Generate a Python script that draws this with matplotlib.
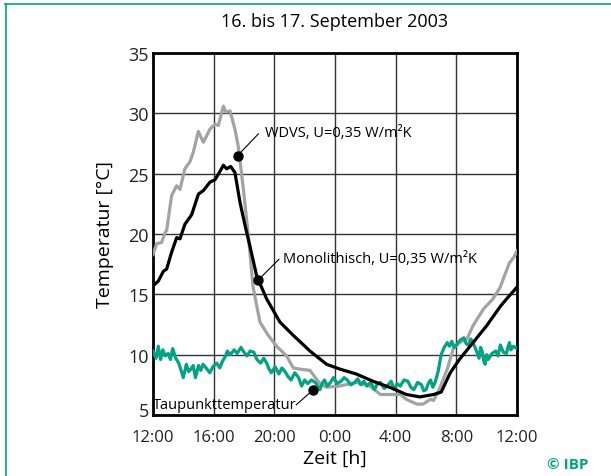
import matplotlib

matplotlib.use("Agg")
import matplotlib.pyplot as plt
import matplotlib.transforms as mtransforms
from matplotlib.lines import Line2D

plt.rcParams["font.family"] = ["Open Sans", "DejaVu Sans"]

TEAL = "#00a383"
GRAY = "#a3a3a3"

# hours after 16.09. 12:00
wdvs_t = [0, 0.24, 0.57, 0.79, 0.9, 1.23, 1.56, 1.78, 2.1, 2.44, 2.66, 2.99, 3.32, 3.76,
          4.09, 4.31, 4.64, 4.81, 5.08, 5.4, 5.63, 5.96, 6.29, 6.6, 7.05, 7.6, 8.15, 8.8,
          9.25, 9.7, 10.35, 11.0, 11.45, 12.3, 13.4, 14.3, 15.0, 16.3, 16.7, 17.4, 17.8,
          18.3, 18.5, 18.9, 19.4, 19.8, 20.2, 20.7, 21.1, 21.8, 22.4, 22.9, 23.1, 23.5,
          23.8, 24.0]
wdvs_T = [18.3, 19.2, 19.3, 20.1, 20.3, 23.2, 24.0, 23.7, 25.4, 26.0, 26.8, 28.5, 27.6, 28.7,
          29.1, 29.0, 30.6, 30.1, 30.2, 28.7, 27.2, 23.7, 19.8, 15.6, 12.7, 11.6, 10.7, 9.9,
          8.9, 8.8, 8.7, 7.6, 7.3, 7.4, 7.7, 7.4, 6.7, 6.7, 6.3, 5.9, 5.9,
          6.3, 6.2, 7.2, 8.8, 10.5, 11.0, 11.3, 12.4, 13.8, 14.6, 15.6, 16.3, 17.6,
          18.1, 18.6]

mono_t = [0, 0.35, 0.68, 0.9, 1.23, 1.56, 1.78, 2.1, 2.55, 2.99, 3.32, 3.76, 4.09, 4.42,
          4.64, 4.86, 5.12, 5.4, 5.74, 6.07, 6.39, 6.84, 7.5, 8.37, 9.25, 10.35, 11.45,
          12.33, 13.4, 14.5, 15.8, 16.7, 17.6, 18.5, 19.0, 19.6, 20.2, 21.1, 22.0, 22.9,
          23.3, 24.0]
mono_T = [15.7, 16.1, 16.9, 17.1, 18.5, 19.7, 19.6, 20.8, 21.6, 23.3, 23.6, 24.3, 24.5, 25.2,
          25.7, 25.4, 25.6, 25.1, 22.6, 20.7, 19.0, 16.5, 14.6, 12.7, 11.6, 10.3, 9.2,
          8.8, 8.4, 7.8, 7.2, 6.7, 6.5, 6.7, 6.9, 8.5, 9.6, 11.0, 12.4, 14.0,
          14.6, 15.6]

tau_t = [0, 0.2, 0.35, 0.5, 0.65, 0.8, 1.0, 1.15, 1.3, 1.5, 1.7, 2.0, 2.2, 2.35, 2.5, 2.65,
         2.8, 3.0, 3.15, 3.3, 3.5, 3.75, 3.95, 4.2, 4.4, 4.6, 4.75, 4.9, 5.1, 5.35, 5.55,
         5.8, 6.0, 6.2, 6.4, 6.65, 6.85, 7.1, 7.3, 7.5, 7.65, 7.8, 8.05, 8.3, 8.5, 8.7,
         8.9, 9.1, 9.35, 9.6, 9.8, 10.0, 10.2, 10.45, 10.7, 11.0, 11.15, 11.3, 11.5, 11.7,
         11.9, 12.15, 12.4, 12.6, 12.8, 13.05, 13.3, 13.5, 13.7, 13.9, 14.1, 14.35, 14.6,
         14.8, 15.0, 15.25, 15.5, 15.7, 15.9, 16.1, 16.3, 16.55, 16.8, 17.0, 17.2, 17.45,
         17.7, 17.85, 18.0, 18.15, 18.3, 18.45, 18.6, 18.8, 19.0, 19.2, 19.4, 19.55, 19.7,
         19.85, 20.0, 20.25, 20.5, 20.65, 20.8, 20.95, 21.1, 21.3, 21.5, 21.6, 21.7, 21.8,
         21.9, 22.0, 22.1, 22.35, 22.6, 22.75, 22.9, 23.1, 23.3, 23.4, 23.5, 23.6, 23.75,
         24.0]
tau_T = [10.3, 9.7, 10.7, 9.6, 10.4, 9.9, 10.1, 9.6, 10.5, 9.7, 9.3, 8.1, 9.2, 8.6, 8.8, 9.1,
         8.1, 9.1, 8.7, 9.2, 8.9, 8.5, 9.0, 9.3, 8.9, 9.5, 9.8, 10.3, 10.0, 10.4, 10.1,
         10.6, 10.2, 9.9, 10.3, 10.2, 9.6, 9.3, 9.7, 9.3, 8.8, 8.5, 9.0, 8.4, 8.9, 8.6,
         8.2, 7.9, 8.5, 8.1, 7.4, 7.9, 7.6, 7.9, 7.7, 7.1, 7.6, 7.9, 7.4, 7.7,
         8.1, 7.6, 7.8, 8.1, 7.9, 7.5, 7.7, 8.0, 7.5, 7.8, 7.4, 7.7, 7.1,
         7.6, 7.7, 7.2, 7.5, 7.8, 7.1, 7.6, 7.4, 7.9, 7.8, 7.3, 7.1, 7.7,
         7.5, 7.0, 7.1, 7.6, 7.9, 7.3, 7.7, 8.6, 10.0, 10.6, 11.0, 10.7, 11.1,
         10.6, 10.8, 11.2, 11.4, 10.9, 10.8, 11.3, 11.0, 10.4, 9.7, 10.6, 10.3, 9.5,
         9.2, 10.0, 9.6, 10.1, 10.3, 9.9, 10.8, 10.2, 10.1, 10.6, 11.0, 10.4, 10.7,
         10.5]

x_ticks = [0, 4, 8, 12, 16, 20, 24]
x_labels = ["12:00", "16:00", "20:00", "0:00", "4:00", "8:00", "12:00"]
y_ticks = [5, 10, 15, 20, 25, 30, 35]

fig = plt.figure(figsize=(6.11, 4.77), dpi=100)
ax = fig.add_axes([153 / 611, 1 - 416 / 477, 364 / 611, 362 / 477])

ax.plot(wdvs_t, wdvs_T, color=GRAY, lw=2.3, zorder=3)
ax.plot(tau_t, tau_T, color=TEAL, lw=2.3, zorder=4)
ax.plot(mono_t, mono_T, color="black", lw=2.3, zorder=5)

ax.set_xlim(0, 24)
ax.set_ylim(5, 35)
ax.set_xticks(x_ticks)
ax.set_xticklabels(x_labels)
ax.set_yticks(y_ticks)
ax.tick_params(length=0, labelsize=12, colors="#222222")
ax.tick_params(axis="x", pad=10)
ax.tick_params(axis="y", pad=3, labelsize=13)
ax.grid(True, color="#333333", lw=1.0)
ax.set_axisbelow(True)
for s in ax.spines.values():
    s.set_linewidth(2.0)

# lift the lowest y label a little so it clears the time labels
lbl5 = ax.get_yticklabels()[0]
lbl5.set_transform(lbl5.get_transform()
                   + mtransforms.ScaledTranslation(0, 6 / 100, fig.dpi_scale_trans))

# callouts
dot = dict(marker="o", ms=6.5, color="black", zorder=6, clip_on=False)
ax.plot([5.58], [26.5], **dot)
ax.plot([5.58, 6.95], [26.5, 28.3], color="black", lw=0.8, zorder=6)
ax.text(7.4, 28.4, "WDVS, U=0,35 W/m²K", fontsize=10.5, va="center", ha="left")

ax.plot([6.95], [16.2], **dot)
ax.plot([6.95, 8.3], [16.2, 17.9], color="black", lw=0.8, zorder=6)
ax.text(8.6, 18.0, "Monolithisch, U=0,35 W/m²K", fontsize=10.5, va="center", ha="left")

ax.plot([10.57], [7.1], **dot)
ax.plot([10.57, 9.45], [7.1, 5.85], color="black", lw=0.8, zorder=6)
ax.text(9.45, 5.9, "Taupunkttemperatur", fontsize=10.5, va="center", ha="right")

ax.set_xlabel("Zeit [h]", fontsize=14, labelpad=3)
ax.set_ylabel("Temperatur [°C]", fontsize=14, labelpad=10)
fig.text(335 / 611, 1 - 22 / 477, "16. bis 17. September 2003", fontsize=13,
         ha="center", va="center")
fig.text(568 / 611, 1 - 465 / 477, "© IBP", fontsize=11, fontweight="bold",
         color=TEAL, ha="center", va="center")

# teal frame (top and left)
fig.add_artist(Line2D([5 / 611, 1], [1 - 5 / 477, 1 - 5 / 477], color=TEAL, lw=1.2))
fig.add_artist(Line2D([6 / 611, 6 / 611], [0, 1 - 5 / 477], color=TEAL, lw=1.2))

fig.savefig("out.png", dpi=100)
